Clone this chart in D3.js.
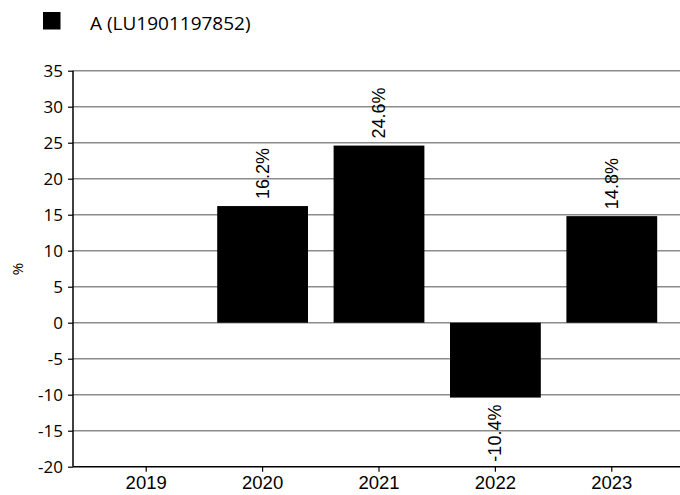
<!DOCTYPE html>
<html><head><meta charset="utf-8">
<script src="https://cdn.jsdelivr.net/npm/d3@7/dist/d3.min.js"></script>
<style>body{margin:0;background:#fff}svg{display:block}</style>
</head><body><svg id="c" width="680" height="495"></svg>
<script>
const categories = ["2019","2020","2021","2022","2023"];
const values = [null, 16.2, 24.6, -10.4, 14.8];
const yTicks = [-20,-15,-10,-5,0,5,10,15,20,25,30,35];
const seriesName = "A (LU1901197852)";

const svg = d3.select("#c");
const axisFont = "'Open Sans', sans-serif";
const labelFont = "'Liberation Sans', Arial, sans-serif";
const x = d3.scaleBand().domain(categories).range([88, 670]).paddingInner(0.22).paddingOuter(0.11);
const y = d3.scaleLinear().domain([-20, 35]).range([466.7, 70.7]);
const left = 73, right = 680;

// gridlines
svg.append("g").selectAll("line").data(yTicks.filter(d => d !== -20)).join("line")
  .attr("x1", left).attr("x2", right).attr("y1", d => y(d)).attr("y2", d => y(d))
  .attr("stroke", "#8c8c8c").attr("stroke-width", 1.5);

// bars
const rows = categories.map((c,i)=>({c, v: values[i]})).filter(d => d.v !== null);
svg.append("g").selectAll("rect").data(rows).join("rect")
  .attr("x", d => x(d.c)).attr("width", x.bandwidth())
  .attr("y", d => y(Math.max(0, d.v))).attr("height", d => Math.abs(y(d.v) - y(0)))
  .attr("fill", "#000");

// y axis
const yAxis = svg.append("g").attr("transform", `translate(${left},0)`)
  .call(d3.axisLeft(y).tickValues(yTicks).tickSize(5).tickPadding(5).tickFormat(d => String(d)));
yAxis.select(".domain").remove();
yAxis.append("line").attr("x1", 0).attr("x2", 0).attr("y1", y(35)).attr("y2", y(-20)).attr("stroke", "#000").attr("stroke-width", 1.5);
yAxis.selectAll(".tick line").attr("stroke", "#000").attr("stroke-width", 1.2);
yAxis.selectAll("text").attr("font-family", axisFont).attr("font-size", 17).attr("fill", "#000");

// x axis
const xAxis = svg.append("g").attr("transform", `translate(0,${y(-20)})`)
  .call(d3.axisBottom(x).tickSize(5).tickPadding(4));
xAxis.select(".domain").remove();
xAxis.append("line").attr("x1", left).attr("x2", right).attr("y1", 0).attr("y2", 0).attr("stroke", "#000").attr("stroke-width", 1.5);
xAxis.selectAll(".tick line").attr("stroke", "#000").attr("stroke-width", 1.2);
xAxis.selectAll("text").attr("font-family", labelFont).attr("font-size", 18.5).attr("fill", "#000");

// value labels
svg.append("g").selectAll("text").data(rows).join("text")
  .attr("transform", d => {
    const cx = x(d.c) + x.bandwidth()/2 + 6;
    const yy = d.v >= 0 ? y(d.v) - 7 : y(d.v) + 7;
    return `translate(${cx},${yy}) rotate(-90)`;
  })
  .attr("text-anchor", d => d.v >= 0 ? "start" : "end")
  .attr("font-family", labelFont).attr("font-size", 18).attr("fill", "#000")
  .text(d => d.v.toFixed(1) + "%");

// y axis title
svg.append("text").attr("transform", `translate(23,269) rotate(-90)`).attr("text-anchor", "middle")
  .attr("font-family", axisFont).attr("font-size", 15).text("%");

// legend
svg.append("rect").attr("x", 43).attr("y", 12).attr("width", 17.5).attr("height", 17.5).attr("fill", "#000");
svg.append("text").attr("x", 90).attr("y", 29.5).attr("font-family", axisFont).attr("font-size", 19).text(seriesName);
</script></body></html>
